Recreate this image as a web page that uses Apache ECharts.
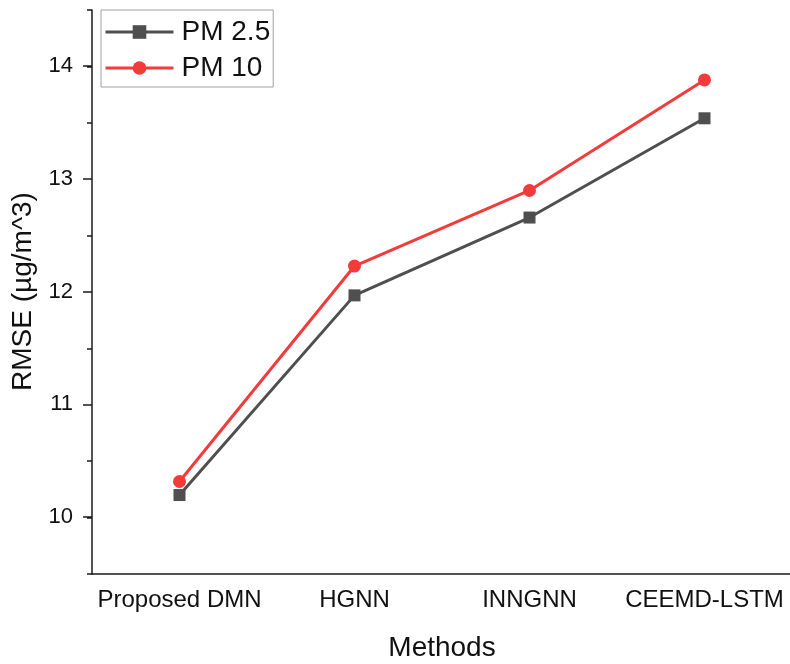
<!DOCTYPE html>
<html>
<head>
<meta charset="utf-8">
<script src="https://cdn.jsdelivr.net/npm/echarts@6/dist/echarts.min.js"></script>
<style>html,body{margin:0;padding:0;background:#fff}#c{width:790px;height:664px}</style>
</head>
<body>
<div id="c"></div>
<script>
var categories = ['Proposed DMN', 'HGNN', 'INNGNN', 'CEEMD-LSTM'];
var pm25 = [10.20, 11.97, 12.66, 13.54];
var pm10 = [10.32, 12.23, 12.90, 13.88];
var yMajorTicks = [10, 11, 12, 13, 14];

var FONT = 'Arial, "Liberation Sans", sans-serif';
var chart = echarts.init(document.getElementById('c'), null, {renderer: 'canvas'});
var axisColor = '#1a1a1a';
chart.setOption({
  backgroundColor: '#fff',
  animation: false,
  grid: [
    {left: 92, top: 10, width: 700, height: 564, containLabel: false, outerBoundsMode: 'none'},
    {left: 92, top: 66, width: 700, height: 451, containLabel: false, outerBoundsMode: 'none'}
  ],
  legend: {
    left: 101, top: 10,
    orient: 'vertical',
    borderColor: '#a0a0a0', borderWidth: 1,
    padding: [8, 3, 5, 3],
    itemWidth: 68, itemHeight: 17, itemGap: 8,
    lineStyle: {width: 3},
    textStyle: {fontFamily: FONT, fontSize: 28, color: '#111', padding: [0, 0, 0, 3]},
    data: ['PM 2.5', 'PM 10']
  },
  xAxis: [
    {
      type: 'category', gridIndex: 0, data: categories, boundaryGap: true, position: 'bottom',
      name: 'Methods', nameLocation: 'middle', nameGap: 60,
      nameTextStyle: {fontFamily: FONT, fontSize: 28, color: '#111'},
      axisLine: {lineStyle: {color: axisColor, width: 1.5}},
      axisTick: {alignWithLabel: true, length: 9, lineStyle: {color: axisColor, width: 1.5}},
      axisLabel: {fontFamily: FONT, fontSize: 24, color: '#111', margin: 14, interval: 0},
      splitLine: {show: false}
    },
    {
      type: 'category', gridIndex: 0, data: categories, boundaryGap: true, position: 'bottom',
      axisLine: {show: false},
      axisTick: {alignWithLabel: false, length: 5, lineStyle: {color: axisColor, width: 1.5}},
      axisLabel: {show: false},
      splitLine: {show: false}
    },
    {
      type: 'category', gridIndex: 1, data: categories, show: false
    }
  ],
  yAxis: [
    {
      type: 'value', gridIndex: 0, min: 9.5, max: 14.5, interval: 0.5,
      axisLine: {show: true, lineStyle: {color: axisColor, width: 1.5}},
      axisTick: {show: true, length: 5, lineStyle: {color: axisColor, width: 1.5}},
      axisLabel: {show: false},
      splitLine: {show: false}
    },
    {
      type: 'value', gridIndex: 1, min: yMajorTicks[0], max: yMajorTicks[yMajorTicks.length - 1], interval: 1,
      name: 'RMSE (µg/m^3)', nameLocation: 'middle', nameGap: 52,
      nameTextStyle: {fontFamily: FONT, fontSize: 28, color: '#111'},
      axisLine: {show: false},
      axisTick: {show: true, length: 9, lineStyle: {color: axisColor, width: 1.5}},
      axisLabel: {fontFamily: FONT, fontSize: 22, color: '#111', margin: 19},
      splitLine: {show: false}
    }
  ],
  series: [
    {
      name: 'PM 2.5', type: 'line', xAxisIndex: 0, yAxisIndex: 0, data: pm25,
      symbol: 'rect', symbolSize: 12,
      lineStyle: {color: '#4f4f4f', width: 3},
      itemStyle: {color: '#4f4f4f'}
    },
    {
      name: 'PM 10', type: 'line', xAxisIndex: 0, yAxisIndex: 0, data: pm10,
      symbol: 'circle', symbolSize: 13,
      lineStyle: {color: '#f23b3b', width: 3},
      itemStyle: {color: '#f23b3b'}
    }
  ]
});
</script>
</body>
</html>
